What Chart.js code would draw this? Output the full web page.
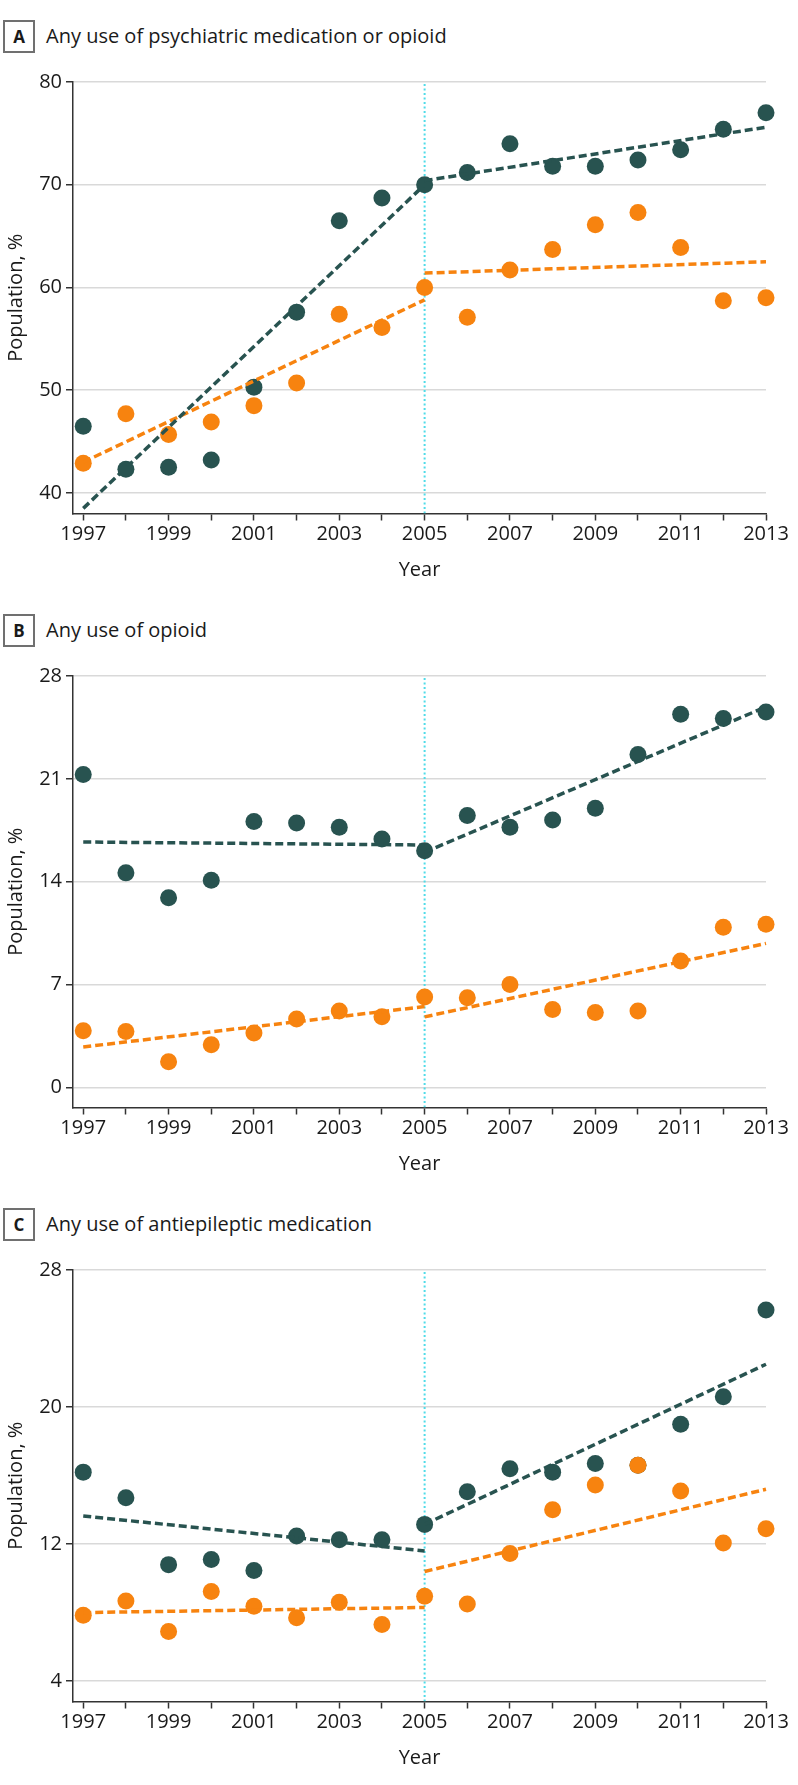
<!DOCTYPE html>
<html>
<head>
<meta charset="utf-8">
<script src="https://cdn.jsdelivr.net/npm/chart.js@4.4.0/dist/chart.umd.min.js"></script>
<style>
    body { margin: 0; background: #fff; font-family: "Open Sans", sans-serif; color: #1a1a1a; }
    .panel { position: relative; width: 798px; height: 594px; }
    .tag { position: absolute; left: 3px; top: 20px; width: 28px; height: 29px; border: 2px solid #707070;
           font-weight: bold; font-size: 17px; line-height: 29px; text-align: center; }
    .ttl { position: absolute; left: 46px; top: 20px; font-size: 20px; line-height: 32px; }
    .box { position: absolute; left: 0; top: 60px; width: 798px; height: 530px; }
</style>
</head>
<body>
<div class="panel">
    <div class="tag">A</div><div class="ttl">Any use of psychiatric medication or opioid</div>
    <div class="box"><canvas id="chartA"></canvas></div>
</div>
<div class="panel">
    <div class="tag">B</div><div class="ttl">Any use of opioid</div>
    <div class="box"><canvas id="chartB"></canvas></div>
</div>
<div class="panel">
    <div class="tag">C</div><div class="ttl">Any use of antiepileptic medication</div>
    <div class="box"><canvas id="chartC"></canvas></div>
</div>
<script>
// Anos e rótulos do eixo x
const years = [1997, 1998, 1999, 2000, 2001, 2002, 2003, 2004, 2005, 2006, 2007, 2008, 2009, 2010, 2011, 2012, 2013];
const yearLabels = ['1997', '1999', '2001', '2003', '2005', '2007', '2009', '2011', '2013'];
const breakYear = 2005;
const fitPreYears = [1997, 2005];
const fitPostYears = [2005, 2013];

// Painel A
const aDark = [46.5, 42.3, 42.5, 43.2, 50.3, 57.6, 66.5, 68.7, 70.0, 71.2, 74.0, 71.8, 71.8, 72.4, 73.4, 75.4, 77.0];
const aOrange = [42.9, 47.7, 45.7, 46.9, 48.5, 50.7, 57.4, 56.1, 60.0, 57.1, 61.7, 63.7, 66.1, 67.3, 63.9, 58.7, 59.0];
const aDarkPre = [38.5, 70.0];
const aDarkPost = [70.4, 75.6];
const aOrangePre = [43.0, 58.8];
const aOrangePost = [61.4, 62.5];
const aTicks = [40, 50, 60, 70, 80];

// Painel B
const bDark = [21.3, 14.6, 12.9, 14.1, 18.1, 18.0, 17.7, 16.9, 16.1, 18.5, 17.7, 18.2, 19.0, 22.65, 25.4, 25.1, 25.55];
const bOrange = [3.85, 3.8, 1.75, 2.9, 3.7, 4.65, 5.2, 4.8, 6.15, 6.1, 7.0, 5.3, 5.1, 5.2, 8.6, 10.9, 11.1];
const bDarkPre = [16.7, 16.5];
const bDarkPost = [16.0, 25.9];
const bOrangePre = [2.75, 5.5];
const bOrangePost = [4.8, 9.8];
const bTicks = [0, 7, 14, 21, 28];

// Painel C
const cDark = [16.2, 14.7, 10.8, 11.1, 10.46, 12.47, 12.25, 12.25, 13.15, 15.06, 16.4, 16.2, 16.7, 16.6, 19.0, 20.6, 25.66];
const cOrange = [7.84, 8.68, 6.9, 9.23, 8.37, 7.7, 8.6, 7.3, 8.95, 8.5, 11.45, 14.0, 15.45, 16.6, 15.1, 12.06, 12.9];
const cDarkPre = [13.64, 11.6];
const cDarkPost = [13.15, 22.5];
const cOrangePre = [8.0, 8.3];
const cOrangePost = [10.4, 15.2];
const cTicks = [4, 12, 20, 28];

const darkColor = '#285350';
const orangeColor = '#f7830f';
const cyanColor = '#4fdbe8';
const axisColor = '#333333';
const gridColor = '#d9d9d9';
const textColor = '#1a1a1a';
const font = { family: '"Open Sans", sans-serif', size: 20 };

function toPoints(xs, ys) {
    return xs.map((x, i) => ({ x: x, y: ys[i] }));
}

function dots(values, color, order) {
    return {
        type: 'scatter', data: toPoints(years, values), order: order,
        backgroundColor: color, borderWidth: 0, pointRadius: 8.5, clip: false
    };
}

function fitLine(xs, values, color) {
    return {
        type: 'line', data: toPoints(xs, values), order: 1, showLine: true,
        borderColor: color, borderWidth: 3.5, borderDash: [8, 4], pointRadius: 0, clip: false
    };
}

// Cria um painel completo
function createPanel(id, dark, orange, darkPre, darkPost, orangePre, orangePost, ticks, yMin, yMax) {
    const ctx = document.getElementById(id).getContext('2d');
    return new Chart(ctx, {
        type: 'scatter',
        data: {
            datasets: [
                {
                    type: 'line', data: [{ x: breakYear, y: yMin }, { x: breakYear, y: yMax }], order: 10,
                    borderColor: cyanColor, borderWidth: 2, borderDash: [2, 2.5], pointRadius: 0, showLine: true
                },
                dots(dark, darkColor, 6),
                dots(orange, orangeColor, 5),
                fitLine(fitPreYears, darkPre, darkColor),
                fitLine(fitPostYears, darkPost, darkColor),
                fitLine(fitPreYears, orangePre, orangeColor),
                fitLine(fitPostYears, orangePost, orangeColor)
            ]
        },
        options: {
            responsive: true,
            maintainAspectRatio: false,
            animation: false,
            events: [],
            layout: { padding: { top: 22, right: 32, bottom: 8, left: 0 } },
            plugins: { legend: { display: false }, tooltip: { enabled: false } },
            scales: {
                x: {
                    type: 'linear', min: 1996.76, max: 2013,
                    afterBuildTicks: s => { s.ticks = years.map(v => ({ value: v })); },
                    ticks: {
                        autoSkip: false, maxRotation: 0, padding: 2, font: font, color: textColor,
                        callback: v => (yearLabels.includes(String(v)) ? String(v) : '')
                    },
                    grid: { drawOnChartArea: false, tickLength: 7, tickColor: axisColor, tickWidth: 1.5 },
                    border: { color: axisColor, width: 1.5 },
                    title: { display: true, text: 'Year', font: font, color: textColor, padding: { top: 9.5, bottom: 0 } }
                },
                y: {
                    min: yMin, max: yMax,
                    afterBuildTicks: s => { s.ticks = ticks.map(v => ({ value: v })); },
                    afterFit: s => { s.width = 73; },
                    ticks: { padding: 4, font: font, color: textColor },
                    grid: { color: gridColor, lineWidth: 1.5, tickLength: 7, tickColor: axisColor, tickWidth: 1.5 },
                    border: { color: axisColor, width: 1.5 },
                    title: { display: true, text: 'Population, %', font: font, color: textColor, padding: { top: 4, bottom: 0 } }
                }
            }
        }
    });
}

createPanel('chartA', aDark, aOrange, aDarkPre, aDarkPost, aOrangePre, aOrangePost, aTicks, 38, 80);
createPanel('chartB', bDark, bOrange, bDarkPre, bDarkPost, bOrangePre, bOrangePost, bTicks, -1.37, 28);
createPanel('chartC', cDark, cOrange, cDarkPre, cDarkPost, cOrangePre, cOrangePost, cTicks, 2.81, 28);
</script>
</body>
</html>
